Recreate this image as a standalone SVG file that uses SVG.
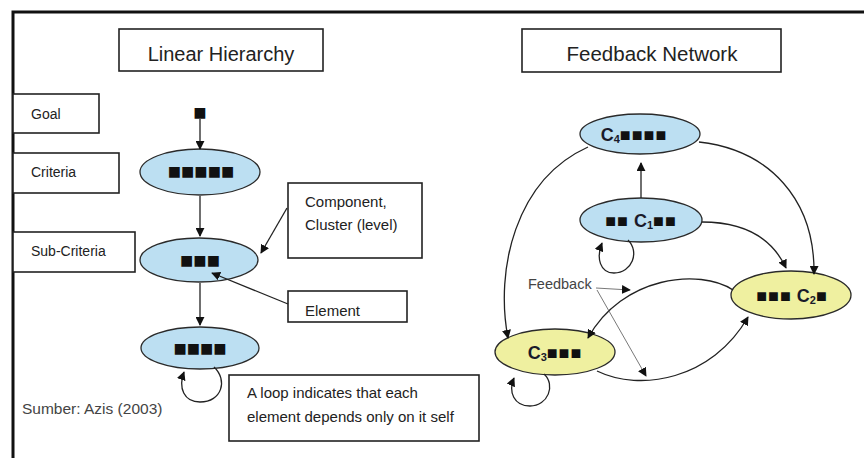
<svg xmlns="http://www.w3.org/2000/svg" width="864" height="458" viewBox="0 0 864 458">
<style>
.bg{fill:#fff}
.frame{fill:none;stroke:#111;stroke-width:3}
.box{fill:#fff;stroke:#222;stroke-width:1.6}
.lbl{font-family:"Liberation Sans",Arial,sans-serif;fill:#222}
.blue{fill:#bcdff2;stroke:#2a2a2a;stroke-width:1.3}
.yel{fill:#eff0a0;stroke:#2a2a2a;stroke-width:1.3}
.sq{font-family:"Liberation Sans",Arial,sans-serif;font-size:22px;fill:#111}
.cl{font-family:"Liberation Sans Narrow","Liberation Sans",Arial,sans-serif;font-weight:bold;font-size:18px;fill:#1a1a2a}
.cs{font-size:18px;font-weight:normal;letter-spacing:1px;fill:#111}
.ln{fill:none;stroke:#222;stroke-width:1.3}
.thin{fill:none;stroke:#555;stroke-width:0.8}
.grey{font-family:"Liberation Sans",Arial,sans-serif;fill:#444}
</style>
<defs>
<marker id="ah" viewBox="0 0 10 10" refX="9" refY="5" markerWidth="9" markerHeight="9" markerUnits="userSpaceOnUse" orient="auto">
<path d="M0,0 L10,5 L0,10 Z" fill="#111"/>
</marker>
</defs>
<rect class="bg" x="0" y="0" width="864" height="458"/>
<path class="frame" d="M13,458 L13,12 L864,12"/>

<g id="title-linear"><rect class="box" x="119" y="29" width="204" height="42"/><text class="lbl" x="221" y="61" font-size="20" text-anchor="middle">Linear Hierarchy</text></g>
<g id="title-feedback"><rect class="box" x="522" y="29" width="259" height="43"/><text class="lbl" x="652" y="61" font-size="20.5" text-anchor="middle">Feedback Network</text></g>

<g id="label-goal"><rect class="box" x="13" y="94" width="86" height="39"/><text class="lbl" x="31" y="119" font-size="14">Goal</text></g>
<g id="label-criteria"><rect class="box" x="13" y="153" width="106" height="40"/><text class="lbl" x="31" y="177" font-size="14">Criteria</text></g>
<g id="label-subcriteria"><rect class="box" x="13" y="232" width="122" height="40"/><text class="lbl" x="31" y="256" font-size="14">Sub-Criteria</text></g>

<g id="goal-node"><text class="sq" x="200" y="120" font-size="17" text-anchor="middle">■</text></g>
<g id="criteria-node"><ellipse class="blue" cx="200" cy="172" rx="60" ry="23"/><text class="sq" x="201" y="179" text-anchor="middle">■■■■■</text></g>
<g id="subcriteria-node"><ellipse class="blue" cx="199" cy="260" rx="59" ry="22"/><text class="sq" x="200" y="268" text-anchor="middle">■■■</text></g>
<g id="element-node"><ellipse class="blue" cx="200" cy="348" rx="59" ry="21"/><text class="sq" x="200" y="356" text-anchor="middle">■■■■</text></g>

<g id="component-box"><rect class="box" x="288" y="183" width="134" height="75"/><text class="lbl" x="305" y="207" font-size="15">Component,</text><text class="lbl" x="305" y="230" font-size="15">Cluster (level)</text></g>
<g id="element-box"><rect class="box" x="288" y="291" width="119" height="31"/><text class="lbl" x="305" y="316" font-size="15">Element</text></g>
<g id="loop-box"><rect class="box" x="229" y="375" width="250" height="66"/><text class="lbl" x="247" y="398" font-size="15">A loop indicates that each</text><text class="lbl" x="247" y="422" font-size="15">element depends only on it self</text></g>
<g id="source"><text class="grey" x="22" y="414" font-size="15.5">Sumber: Azis (2003)</text></g>

<g id="c4"><ellipse class="blue" cx="640" cy="134" rx="60" ry="20"/><text class="cl" x="634" y="141" text-anchor="middle">C<tspan font-size="11" dy="2">4</tspan><tspan class="cs" dy="-2">■■■■</tspan></text></g>
<g id="c1"><ellipse class="blue" cx="641" cy="220" rx="61" ry="22"/><text class="cl" x="641" y="227" text-anchor="middle"><tspan class="cs">■■</tspan> C<tspan font-size="11" dy="2">1</tspan><tspan class="cs" dy="-2">■■</tspan></text></g>
<g id="c2"><ellipse class="yel" cx="791" cy="295" rx="60" ry="24"/><text class="cl" x="792" y="302" text-anchor="middle"><tspan class="cs">■■■</tspan> C<tspan font-size="11" dy="2">2</tspan><tspan class="cs" dy="-2">■</tspan></text></g>
<g id="c3"><ellipse class="yel" cx="555" cy="352" rx="60" ry="23"/><text class="cl" x="555" y="359" text-anchor="middle">C<tspan font-size="11" dy="2">3</tspan><tspan class="cs" dy="-2">■■■</tspan></text></g>
<g id="feedback-label"><text class="grey" x="528" y="289" font-size="14.5">Feedback</text></g>

<g id="connectors">
<path class="ln" d="M200,119 L200,149" marker-end="url(#ah)"/>
<path class="ln" d="M200,196 L200,236" marker-end="url(#ah)"/>
<path class="ln" d="M200,283 L200,325" marker-end="url(#ah)"/>
<path class="ln" d="M287,208 L261,253" marker-end="url(#ah)"/>
<path class="ln" d="M288,304 L212,273" marker-end="url(#ah)"/>
<path class="ln" d="M214,367 C228,380 222,402 200,402 C184,402 178,388 184,372" marker-end="url(#ah)"/>

<path class="ln" d="M641,198 L641,163" marker-end="url(#ah)"/>
<path class="ln" d="M628,240 C640,252 632,273 614,273 C600,273 596,258 602,243" marker-end="url(#ah)"/>
<path class="ln" d="M702,222 C745,222 772,238 786,268" marker-end="url(#ah)"/>
<path class="ln" d="M699,142 C770,150 815,200 814,274" marker-end="url(#ah)"/>
<path class="ln" d="M588,147 C515,180 495,270 508,338" marker-end="url(#ah)"/>
<path class="ln" d="M733,290 C700,268 622,276 588,338" marker-end="url(#ah)"/>
<path class="ln" d="M597,371 C640,392 712,380 748,317" marker-end="url(#ah)"/>
<path class="ln" d="M544,374 C556,385 548,406 530,406 C514,406 508,392 514,378" marker-end="url(#ah)"/>
<path class="thin" d="M596,288 L630,290" marker-end="url(#ah)"/>
<path class="thin" d="M597,290 L646,376" marker-end="url(#ah)"/>
</g>
</svg>
